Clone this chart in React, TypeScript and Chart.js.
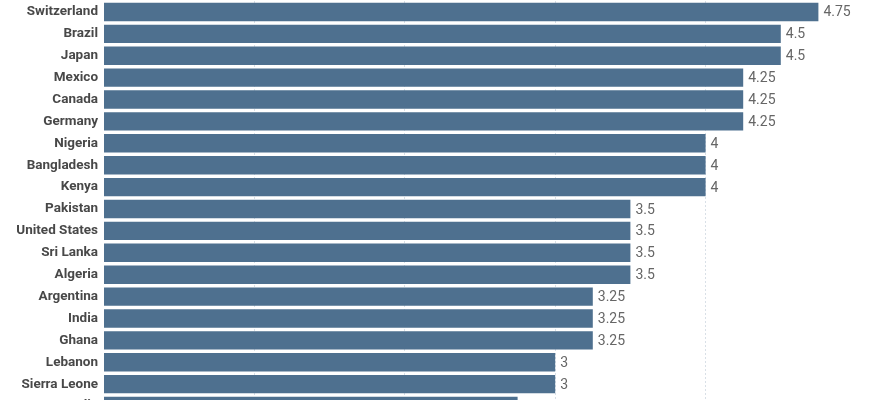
import { useEffect, useRef } from 'react';
import { Chart, registerables } from 'chart.js';

Chart.register(...registerables);

const countries = [
  'Switzerland', 'Brazil', 'Japan', 'Mexico', 'Canada', 'Germany', 'Nigeria',
  'Bangladesh', 'Kenya', 'Pakistan', 'United States', 'Sri Lanka', 'Algeria',
  'Argentina', 'India', 'Ghana', 'Lebanon', 'Sierra Leone', 'Australia',
];
const scores = [
  4.75, 4.5, 4.5, 4.25, 4.25, 4.25, 4, 4, 4, 3.5, 3.5, 3.5, 3.5,
  3.25, 3.25, 3.25, 3, 3, 2.75,
];
const gridTicks = [1, 2, 3, 4];

const BAR_COLOR = '#4e708f';

// draws the number just right of each bar
const valueLabels = {
  id: 'valueLabels',
  afterDatasetsDraw(chart: Chart) {
    const { ctx } = chart;
    const meta = chart.getDatasetMeta(0);
    ctx.save();
    ctx.font = '14px Roboto';
    ctx.fillStyle = '#666666';
    ctx.textAlign = 'left';
    ctx.textBaseline = 'middle';
    meta.data.forEach((bar: any, i: number) => {
      ctx.fillText(String(scores[i]), bar.x + 5, bar.y + 1);
    });
    ctx.restore();
  },
};

export default function App() {
  const chartRef = useRef<HTMLCanvasElement>(null);
  const chartInstance = useRef<Chart | null>(null);

  useEffect(() => {
    document.body.style.margin = '0';
    if (!chartRef.current) return;
    if (chartInstance.current) chartInstance.current.destroy();

    chartInstance.current = new Chart(chartRef.current, {
      type: 'bar',
      data: {
        labels: countries,
        datasets: [
          {
            data: scores,
            backgroundColor: BAR_COLOR,
            borderWidth: 0,
            categoryPercentage: 1,
            barPercentage: 0.84,
          },
        ],
      },
      options: {
        indexAxis: 'y',
        responsive: false,
        animation: false,
        events: [],
        layout: { padding: { top: 1, right: 14, bottom: 3, left: 0 } },
        plugins: {
          legend: { display: false },
          tooltip: { enabled: false },
        },
        scales: {
          x: {
            type: 'linear',
            min: 0,
            max: 5,
            z: 1,
            afterBuildTicks: (scale: any) => {
              scale.ticks = gridTicks.map(v => ({ value: v }));
            },
            afterFit: (scale: any) => {
              scale.height = 0;
              scale.paddingLeft = 0;
              scale.paddingRight = 0;
            },
            ticks: { display: false },
            grid: {
              color: 'rgba(185,198,212,0.55)',
              lineWidth: 1,
              drawTicks: false,
            },
            border: { display: false, dash: [2, 2] },
          },
          y: {
            afterFit: (scale: any) => {
              scale.width = 104;
              scale.paddingTop = 0;
              scale.paddingBottom = 0;
            },
            ticks: {
              padding: 6,
              color: '#484848',
              font: { family: 'Roboto', size: 13.5, weight: 'bold' },
            },
            grid: { display: false, drawTicks: false },
            border: { display: false },
          },
        },
      },
      plugins: [valueLabels],
    } as any);

    return () => {
      if (chartInstance.current) {
        chartInstance.current.destroy();
        chartInstance.current = null;
      }
    };
  }, []);

  return (
    <div style={{ width: 870, height: 400, overflow: 'hidden', background: '#ffffff' }}>
      <canvas ref={chartRef} width={870} height={420}></canvas>
    </div>
  );
}
